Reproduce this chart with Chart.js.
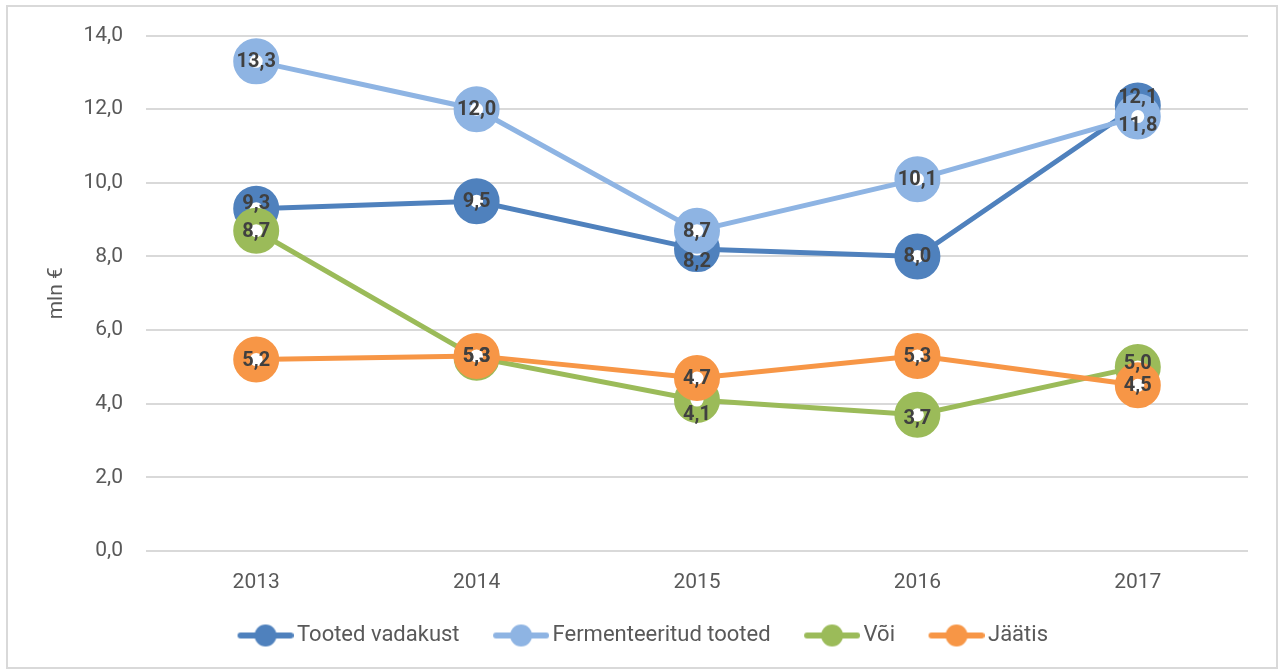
<!DOCTYPE html>
<html>
<head>
<meta charset="utf-8">
<script src="https://cdn.jsdelivr.net/npm/chart.js@4.4.0/dist/chart.umd.min.js"></script>
<style>
body{margin:0;background:#fff}
#frame{position:absolute;left:6px;top:5px;width:1268px;height:660px;border:2px solid #d9d9d9}
#wrap{position:absolute;left:0;top:0;width:1280px;height:671px}
</style>
</head>
<body>
<div id="frame"></div>
<div id="wrap"><canvas id="chart"></canvas></div>
<script>
const years = ['2013', '2014', '2015', '2016', '2017']
const seriesNames = ['Tooted vadakust', 'Fermenteeritud tooted', 'Või', 'Jäätis']
const vadakust = [9.3, 9.5, 8.2, 8.0, 12.1]
const fermenteeritud = [13.3, 12.0, 8.7, 10.1, 11.8]
const voi = [8.7, 5.25, 4.1, 3.7, 5.0]
const jaatis = [5.2, 5.3, 4.7, 5.3, 4.5]
const yTicks = [0, 2, 4, 6, 8, 10, 12, 14]

const colors = ['#4f81bd', '#8eb4e3', '#9bbb59', '#f79646']
// small vertical shifts of the value labels, so overlapping ones stay readable
const labelNudge = [
  [-6, 0, 12, 0, -9],
  [0, 0, 0, 0, 8],
  [0, -2, 14, 3, -4],
  [0, 0, 0, 0, 0]
]

const fmt = v => v.toFixed(1).replace('.', ',')

// legend marker: short line with a dot, drawn to the right of a transparent margin
function legendIcon(color){
  const c = document.createElement('canvas')
  c.width = 87; c.height = 24
  const g = c.getContext('2d')
  g.strokeStyle = color; g.lineWidth = 6; g.lineCap = 'round'
  g.beginPath(); g.moveTo(34, 12); g.lineTo(84, 12); g.stroke()
  g.fillStyle = color
  g.beginPath(); g.arc(59, 12, 11, 0, Math.PI * 2); g.fill()
  return c
}
const icons = colors.map(legendIcon)

const valueLabels = {
  id: 'valueLabels',
  afterDatasetsDraw(chart){
    const ctx = chart.ctx
    ctx.save()
    ctx.font = 'bold 20px Roboto'
    ctx.fillStyle = '#404040'
    ctx.textAlign = 'center'
    ctx.textBaseline = 'middle'
    chart.data.datasets.forEach((ds, i) => {
      chart.getDatasetMeta(i).data.forEach((pt, j) => {
        ctx.fillText(fmt(ds.data[j]), pt.x, pt.y + 1 + labelNudge[i][j])
      })
    })
    ctx.restore()
  }
}

Chart.defaults.font.family = 'Roboto'
Chart.defaults.color = '#595959'

const seriesData = [vadakust, fermenteeritud, voi, jaatis]
const datasets = seriesData.map((d, i) => ({
  label: seriesNames[i],
  data: d,
  borderColor: colors[i],
  borderWidth: 5,
  pointRadius: 14.75,
  pointBorderWidth: 16.5,
  pointBackgroundColor: '#ffffff',
  pointBorderColor: colors[i],
  pointHoverRadius: 14.75,
  order: 3 - i,
  clip: false
}))

new Chart(document.getElementById('chart'), {
  type: 'line',
  data: {labels: years, datasets},
  options: {
    responsive: true,
    maintainAspectRatio: false,
    animation: false,
    layout: {padding: {top: 34, right: 32, bottom: 14.5, left: 14}},
    plugins: {
      tooltip: {enabled: false},
      legend: {
        position: 'bottom',
        labels: {
          usePointStyle: true,
          pointStyleWidth: 72,
          padding: 10,
          color: '#595959',
          font: {size: 22},
          generateLabels(chart){
            const items = Chart.defaults.plugins.legend.labels.generateLabels(chart)
            items.sort((a, b) => a.datasetIndex - b.datasetIndex)
            items.forEach(it => { it.pointStyle = icons[it.datasetIndex] })
            return items
          }
        }
      }
    },
    scales: {
      x: {
        offset: true,
        grid: {display: false},
        border: {display: false},
        ticks: {padding: 11, font: {size: 21}, color: '#595959'},
        afterFit: s => { s.height = 63.5 }
      },
      y: {
        min: yTicks[0],
        max: yTicks[yTicks.length - 1],
        grid: {color: '#d9d9d9', lineWidth: 2, drawTicks: false},
        border: {display: false},
        ticks: {stepSize: yTicks[1] - yTicks[0], padding: 23, font: {size: 21}, color: '#595959', callback: v => fmt(v)},
        title: {display: true, text: 'mln €', font: {size: 21}, color: '#595959', padding: {top: 30, bottom: 0}},
        afterFit: s => { s.width = 132 }
      }
    }
  },
  plugins: [valueLabels]
})
</script>
</body>
</html>
